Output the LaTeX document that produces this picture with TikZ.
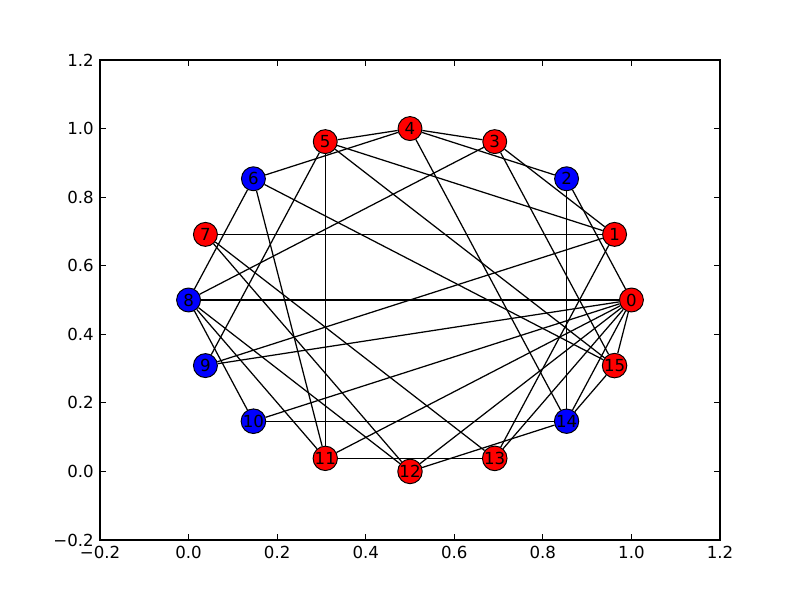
\documentclass[tikz,border=0pt]{standalone}
\usepackage{fontspec}
\setmainfont{DejaVu Sans}
\usepackage{tikz}

\pgfdeclarelayer{edges}
\pgfsetlayers{edges,main}

\begin{document}
\begin{tikzpicture}[x=0.254mm, y=0.254mm,
        vertex/.style={circle, draw=black, line width=0.7pt, minimum size=17.3pt,
            inner sep=0pt, font=\fontsize{12}{14}\selectfont},
        link/.style={black, line width=0.9pt},
        ticklabel/.style={inner sep=0pt, font=\fontsize{12}{14}\selectfont}]
    \useasboundingbox (0,0) rectangle (800,600);
    \draw[line width=0.9pt] (100,60) rectangle (720,540);
    \foreach \k/\lab in {0/−0.2,1/0.0,2/0.2,3/0.4,4/0.6,5/0.8,6/1.0,7/1.2} {
        \draw[line width=0.7pt] (100+\k*88.571,60) -- ++(0,5.6)
            (100+\k*88.571,540) -- ++(0,-5.6)
            (100,60+\k*68.571) -- ++(5.6,0)
            (720,60+\k*68.571) -- ++(-5.6,0);
        \node (xl\k)[ticklabel, anchor=north] at (100+\k*88.571,54) {\lab};
        \node (yl\k)[ticklabel, anchor=east] at (94,60+\k*68.571) {\lab};
    }
    \foreach \i/\c in {0/red,1/red,2/blue,3/red,4/red,5/red,6/blue,7/red,
            8/blue,9/blue,10/blue,11/red,12/red,13/red,14/blue,15/red}
        \node (n\i)[vertex, fill=\c] at ({410+221.43*cos(22.5*\i)},{300+171.43*sin(22.5*\i)}) {\i};
    \begin{pgfonlayer}{edges}
        \path[link]
        (n0) edge (n2) edge (n8) edge (n9) edge (n10) edge (n11) edge (n12)
        edge (n13) edge (n14) edge (n15)
        (n1) edge (n3) edge (n5) edge (n7) edge (n9) edge (n13)
        (n2) edge (n4) edge (n14)
        (n3) edge (n4) edge (n8) edge (n15)
        (n4) edge (n5) edge (n6) edge (n14)
        (n5) edge (n9) edge (n11) edge (n15)
        (n6) edge (n8) edge (n11) edge (n15)
        (n7) edge (n12) edge (n13)
        (n8) edge (n10) edge (n11) edge (n12)
        (n10) edge (n14)
        (n11) edge (n13)
        (n12) edge (n14)
        (n14) edge (n15);
    \end{pgfonlayer}
\end{tikzpicture}
\end{document}
